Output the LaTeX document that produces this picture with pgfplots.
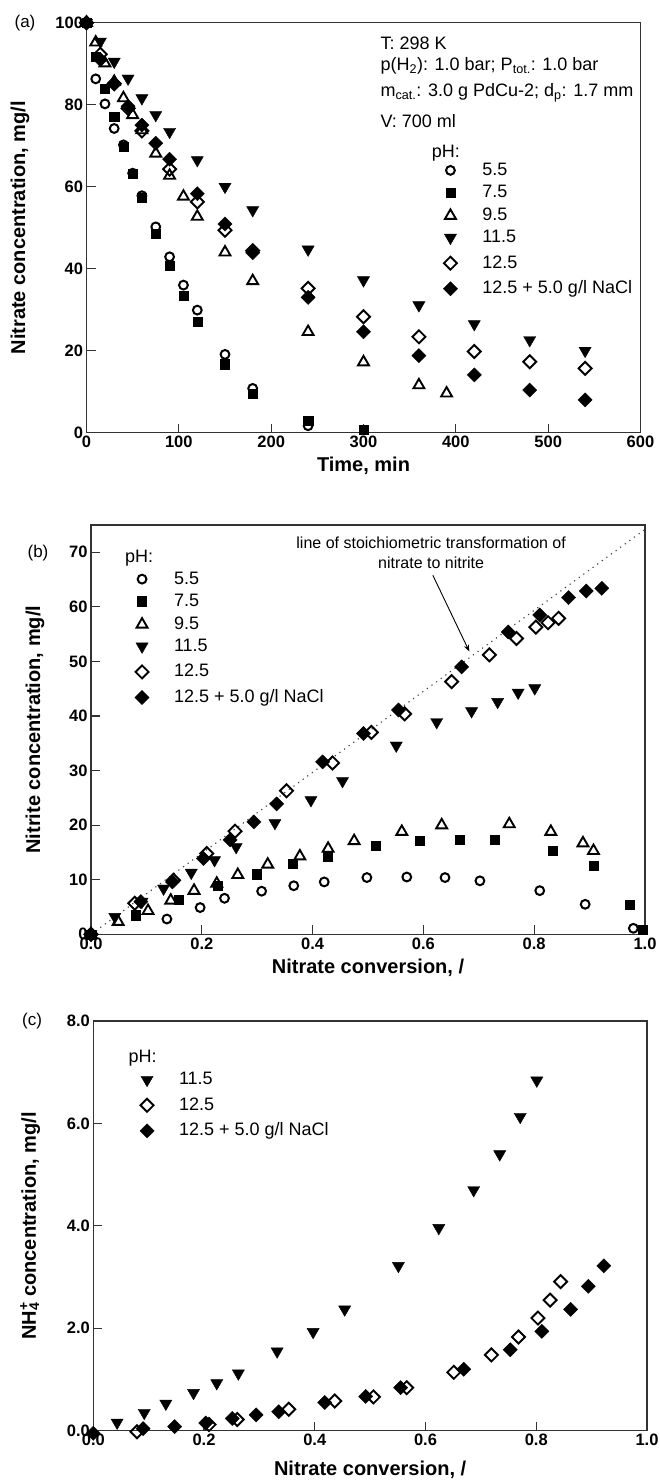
\documentclass[border=0pt]{standalone}
\usepackage{pgfplots}
\pgfplotsset{compat=1.18}
\usepackage{fontspec}
\setmainfont{Liberation Sans}
\usetikzlibrary{arrows.meta}

\newcommand{\ticksize}{\fontsize{16.5}{18}\selectfont\bfseries}
\newcommand{\labelsize}{\fontsize{20}{22}\selectfont\bfseries}
\newcommand{\legsize}{\fontsize{18}{20}\selectfont}

\pgfplotsset{
  panel/.style={
    scale only axis, width=554pt, height=410pt,
    axis line style={black!80, line width=1.2pt},
    tick style={black!80, line width=1.1pt},
    major tick length=9pt, tick align=inside, tick pos=left,
    tick label style={font=\ticksize},
    /pgf/number format/assume math mode=true,
    clip=false,
    legend style={draw=none, fill=none, inner sep=0pt, outer sep=0pt,
      row sep=12pt, column sep=22pt, font=\legsize,
      nodes={inner sep=0pt, text height=10pt, text depth=0pt}},
    legend cell align=left,
  },
  ylab/.style={every axis y label/.style={at={(axis description cs:#1,0.5)},
      rotate=90, anchor=center, font=\labelsize}},
  xlab/.style={every axis x label/.style={at={(axis description cs:0.5,#1)},
      anchor=center, font=\labelsize}},
  mk/.style={only marks, black,
    legend image code/.code={\node[inner sep=0pt, minimum size=10pt, draw=none, fill=none] {};
      \draw[##1] plot coordinates {(0pt,0pt)};}},
  pH55/.style={mk, mark=o, mark size=4.4pt, mark options={line width=2pt, fill=white}},
  pH75/.style={mk, mark=square*, mark size=4.6pt},
  pH95/.style={mk, mark=triangle, mark size=6.3pt, mark options={line width=1.9pt, fill=white}},
  pH115/.style={mk, mark=triangle*, mark size=7pt, mark options={rotate=180}},
  pH125/.style={mk, mark=square, mark size=4.6pt, mark options={rotate=45, line width=1.9pt, fill=white}},
  pHNaCl/.style={mk, mark=square*, mark size=5pt, mark options={rotate=45}},
}

\begin{document}
\begin{tikzpicture}
\useasboundingbox (0pt,0pt) rectangle (660pt,-1480pt);

% ---------------- (a) nitrate vs. time ----------------
\begin{axis}[panel, at={(86.5pt,-432.7pt)}, anchor=south west,
  xmin=0, xmax=600, ymin=0, ymax=100,
  xtick={0,100,...,600}, ytick={0,20,...,100},
  ylab=-0.12, xlab=-0.08,
  xlabel={Time, min}, ylabel={Nitrate concentration, mg/l},
  legend style={at={(axis cs:386.5,65.2)}, anchor=north west}]
\addplot[pH55] coordinates {(0,100) (10,86.3) (20,80.2) (30,74.2) (40,70.2) (50,63.3)
  (60,57.8) (75,50.2) (90,42.9) (105,36.0) (120,29.9) (150,19.1) (180,10.8) (240,1.7)};
\addlegendentry{5.5}
\addplot[pH75] coordinates {(0,100) (10,91.7) (20,84.0) (30,77.1) (40,69.8) (50,63.1)
  (60,57.4) (75,48.6) (90,40.7) (105,33.4) (120,27.1) (150,16.7) (180,9.6) (240,2.9) (300,0.7)};
\addlegendentry{7.5}
\addplot[pH95] coordinates {(0,100) (10,95.2) (20,90.1) (30,85.6) (40,81.6) (50,77.5)
  (60,73.8) (75,68.1) (90,62.7) (105,57.6) (120,52.7) (150,44.0) (180,37.0) (240,24.6)
  (300,17.2) (360,11.6) (390,9.6)};
\addlegendentry{9.5}
\addplot[pH115] coordinates {(0,100) (15,95.4) (30,90.5) (45,86.4) (60,81.6) (75,77.5)
  (90,73.4) (120,66.5) (150,60.0) (180,54.3) (240,44.7) (300,37.2) (360,31.1) (420,26.5)
  (480,22.6) (540,20.0)};
\addlegendentry{11.5}
\addplot[pH125] coordinates {(0,100) (15,92.3) (30,85.1) (45,79.1) (60,73.6) (90,64.3)
  (120,56.3) (150,49.4) (180,44.4) (240,35.2) (300,28.3) (360,23.4) (420,19.8) (480,17.3)
  (540,15.7)};
\addlegendentry{12.5}
\addplot[pHNaCl] coordinates {(0,100) (15,91.0) (30,85.2) (45,79.6) (60,75.0) (75,70.6)
  (90,66.7) (120,58.3) (150,50.9) (180,43.9) (240,33.0) (300,24.6) (360,18.8) (420,14.1)
  (480,10.4) (540,8.0)};
\addlegendentry{12.5 + 5.0 g/l NaCl}
\node[anchor=west, font=\legsize] at (axis cs:370.2,68.2) {pH:};
\end{axis}

\begin{scope}[font=\legsize]
\node[anchor=west] at (377pt,-43pt) {T: 298 K};
\node[anchor=west] at (377pt,-66pt) {p(H\textsubscript{2}): 1.0 bar; P\textsubscript{tot.}: 1.0 bar};
\node[anchor=west] at (377pt,-93pt) {m\textsubscript{cat.}: 3.0 g PdCu-2; d\textsubscript{p}: 1.7 mm};
\node[anchor=west] at (377pt,-121pt) {V: 700 ml};
\end{scope}
\node[font=\fontsize{17}{19}\selectfont] at (25pt,-23pt) {(a)};

% ---------------- (b) nitrite vs. conversion ----------------
\begin{axis}[panel, at={(91pt,-934.3pt)}, anchor=south west, height=409.3pt,
  xmin=0, xmax=1, ymin=0, ymax=75,
  xtick={0,0.2,...,1.0}, ytick={0,10,...,70},
  xticklabel style={/pgf/number format/.cd, fixed, fixed zerofill, precision=1},
  ylab=-0.101, xlab=-0.082,
  xlabel={Nitrate conversion, /}, ylabel={Nitrite concentration, mg/l},
  legend style={at={(axis cs:0.0794,66.0)}, anchor=north west}]
\addplot[black!75, line width=1.1pt, dash pattern=on 1.2pt off 4.5pt, forget plot]
  coordinates {(0,0) (1.0,74.2)};
\addplot[pH55] coordinates {(0,0) (0.137,2.8) (0.197,4.9) (0.241,6.6) (0.308,7.9) (0.366,8.9)
  (0.421,9.6) (0.498,10.4) (0.570,10.5) (0.639,10.4) (0.702,9.8) (0.810,8.0) (0.892,5.5)
  (0.979,1.1)};
\addlegendentry{5.5}
\addplot[pH75] coordinates {(0,0) (0.081,3.5) (0.159,6.3) (0.229,8.9) (0.299,11.0) (0.364,13.0)
  (0.427,14.2) (0.514,16.2) (0.594,17.1) (0.666,17.4) (0.729,17.3) (0.834,15.3) (0.907,12.5)
  (0.973,5.4) (0.996,0.8)};
\addlegendentry{7.5}
\addplot[pH95] coordinates {(0,0) (0.049,2.3) (0.103,4.3) (0.144,6.2) (0.186,8.0) (0.227,9.3)
  (0.265,10.9) (0.319,12.8) (0.377,14.3) (0.428,15.7) (0.475,17.1) (0.561,18.8) (0.633,20.0)
  (0.755,20.2) (0.830,18.8) (0.888,16.7) (0.907,15.3)};
\addlegendentry{9.5}
\addplot[pH115] coordinates {(0,0) (0.043,3.2) (0.092,6.0) (0.131,8.4) (0.181,11.3) (0.223,13.6)
  (0.262,16.0) (0.332,20.4) (0.397,24.6) (0.454,28.1) (0.551,34.6) (0.624,38.9) (0.687,40.9)
  (0.734,42.6) (0.771,44.3) (0.801,45.1)};
\addlegendentry{11.5}
\addplot[pH125] coordinates {(0,0) (0.079,5.7) (0.149,9.9) (0.209,14.8) (0.260,18.9) (0.353,26.3)
  (0.436,31.4) (0.506,37.0) (0.566,40.4) (0.651,46.3) (0.719,51.2) (0.768,54.2) (0.803,56.3)
  (0.825,57.1) (0.844,57.9)};
\addlegendentry{12.5}
\addplot[pHNaCl] coordinates {(0,0) (0.090,6.0) (0.147,9.6) (0.203,13.9) (0.251,17.3) (0.294,20.6)
  (0.335,23.9) (0.418,31.6) (0.492,36.8) (0.555,41.1) (0.669,49.0) (0.753,55.4) (0.810,58.5)
  (0.862,61.7) (0.894,62.9) (0.922,63.4)};
\addlegendentry{12.5 + 5.0 g/l NaCl}
\node[anchor=west, font=\legsize] at (axis cs:0.0554,68.9) {pH:};
\node[align=center, font=\fontsize{16}{20}\selectfont] at (axis cs:0.614,69.85)
  {line of stoichiometric transformation of\\nitrate to nitrite};
\draw[-{Stealth[length=7pt,width=5pt]}, line width=0.9pt] (axis cs:0.617,65.8) -- (axis cs:0.683,51.8);
\end{axis}
\node[font=\fontsize{17}{19}\selectfont] at (38pt,-553pt) {(b)};

% ---------------- (c) ammonium vs. conversion ----------------
\begin{axis}[panel, at={(93.3pt,-1430.7pt)}, anchor=south west, width=553.7pt, height=409.7pt,
  xmin=0, xmax=1, ymin=0, ymax=8,
  xtick={0,0.2,...,1.0}, ytick={0,2,...,8},
  xticklabel style={/pgf/number format/.cd, fixed, fixed zerofill, precision=1},
  yticklabel style={/pgf/number format/.cd, fixed, fixed zerofill, precision=1},
  ylab=-0.114, xlab=-0.096,
  xlabel={Nitrate conversion, /},
  ylabel={NH\rlap{\textsuperscript{+}}\textsubscript{4} concentration, mg/l},
  legend style={at={(axis cs:0.0843,6.95)}, anchor=north west}]
\addplot[pH115] coordinates {(0.043,0.16) (0.092,0.35) (0.131,0.53) (0.181,0.74) (0.223,0.93)
  (0.262,1.12) (0.332,1.55) (0.397,1.93) (0.454,2.37) (0.551,3.22) (0.624,3.96) (0.687,4.70)
  (0.734,5.40) (0.771,6.13) (0.801,6.84)};
\addlegendentry{11.5}
\addplot[pH125] coordinates {(0.079,-0.02) (0.209,0.12) (0.260,0.22) (0.353,0.42) (0.436,0.58)
  (0.506,0.66) (0.566,0.84) (0.651,1.14) (0.719,1.48) (0.768,1.83) (0.803,2.20) (0.825,2.55)
  (0.844,2.91)};
\addlegendentry{12.5}
\addplot[pHNaCl] coordinates {(0,-0.05) (0.090,0.04) (0.147,0.08) (0.203,0.15) (0.251,0.24)
  (0.294,0.31) (0.335,0.37) (0.418,0.55) (0.492,0.67) (0.555,0.84) (0.669,1.20) (0.753,1.58)
  (0.810,1.94) (0.862,2.37) (0.894,2.82) (0.922,3.22)};
\addlegendentry{12.5 + 5.0 g/l NaCl}
\node[anchor=west, font=\legsize] at (axis cs:0.0572,7.28) {pH:};
\end{axis}
\node[font=\fontsize{17}{19}\selectfont] at (32pt,-1021pt) {(c)};
\end{tikzpicture}
\end{document}
